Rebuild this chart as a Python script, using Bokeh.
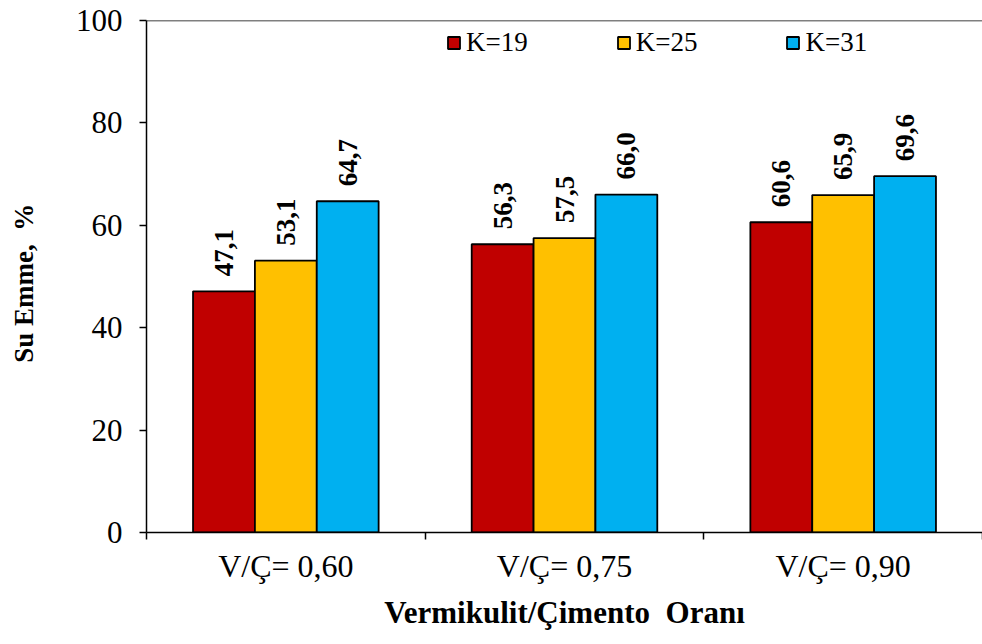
import math
from bokeh.plotting import figure
from bokeh.models import (Range1d, FixedTicker, ColumnDataSource, Legend, LegendItem, Span)
from bokeh.core.properties import value
from bokeh.embed import file_html
from bokeh.resources import INLINE

# Data
categories = ["V/Ç= 0,60", "V/Ç= 0,75", "V/Ç= 0,90"]
series_names = ["K=19", "K=25", "K=31"]
k19 = [47.1, 56.3, 60.6]
k25 = [53.1, 57.5, 65.9]
k31 = [64.7, 66.0, 69.6]
y_ticks = [0, 20, 40, 60, 80, 100]

colors = ["#C00000", "#FFC000", "#00B0F0"]
SERIF = "Liberation Serif"

bar_w = 0.222
offsets = [-bar_w, 0.0, bar_w]

p = figure(width=982, height=644, output_backend="svg", toolbar_location=None,
           x_range=Range1d(0, 3), y_range=Range1d(0, 100),
           min_border_left=146, min_border_right=0, min_border_top=20, min_border_bottom=112)
p.background_fill_color = "white"
p.border_fill_color = "white"
p.outline_line_color = None
p.grid.visible = False

legend_items = []
for name, vals, col, off in zip(series_names, [k19, k25, k31], colors, offsets):
    xs = [i + 0.5 + off for i in range(len(categories))]
    src = ColumnDataSource(dict(x=xs, top=vals,
                                lab=[f"{v:.1f}".replace(".", ",") for v in vals]))
    r = p.vbar(x="x", top="top", width=bar_w, bottom=0, source=src,
               fill_color=col, line_color="black", line_width=1.8)
    p.text(x="x", y="top", text="lab", source=src, angle=math.pi / 2,
           text_align="left", text_baseline="middle", y_offset=-15,
           text_font=value(SERIF), text_font_style="bold",
           text_font_size="27px", text_color="black")
    legend_items.append(LegendItem(label=name, renderers=[r]))

# top border of the plotting area
p.add_layout(Span(location=100, dimension="width", line_color="black", line_width=1.5))

# x axis: category labels at group centres, tick marks at group boundaries
xa = p.xaxis[0]
xa.ticker = FixedTicker(ticks=[i + 0.5 for i in range(len(categories))],
                        minor_ticks=list(range(len(categories) + 1)))
xa.major_label_overrides = {i + 0.5: c for i, c in enumerate(categories)}
xa.major_tick_out = 0
xa.major_tick_in = 0
xa.minor_tick_out = 7
xa.minor_tick_in = 0
xa.minor_tick_line_color = "black"
xa.minor_tick_line_width = 1.5
xa.axis_line_color = "black"
xa.axis_line_width = 1.5
xa.major_label_text_font = SERIF
xa.major_label_text_font_size = "32px"
xa.major_label_text_color = "black"
xa.major_label_standoff = 8
xa.axis_label = "Vermikulit/Çimento\u00a0 Oranı"
xa.axis_label_text_font = SERIF
xa.axis_label_text_font_size = "31px"
xa.axis_label_text_font_style = "bold"
xa.axis_label_text_color = "black"
xa.axis_label_standoff = 8

ya = p.yaxis[0]
ya.ticker = FixedTicker(ticks=y_ticks)
ya.major_tick_out = 7
ya.major_tick_in = 0
ya.minor_tick_out = 0
ya.minor_tick_in = 0
ya.major_tick_line_color = "black"
ya.major_tick_line_width = 1.5
ya.axis_line_color = "black"
ya.axis_line_width = 1.5
ya.major_label_text_font = SERIF
ya.major_label_text_font_size = "31px"
ya.major_label_text_color = "black"
ya.major_label_standoff = 17
ya.axis_label = "Su Emme,\u00a0 %\u00a0\u00a0"
ya.axis_label_text_font = SERIF
ya.axis_label_text_font_size = "27px"
ya.axis_label_text_font_style = "bold"
ya.axis_label_text_color = "black"
ya.axis_label_standoff = 34

legend = Legend(items=legend_items, orientation="horizontal", location=(300, 474),
                glyph_width=15, glyph_height=15, label_standoff=5, spacing=88,
                padding=0, margin=0, border_line_color=None,
                background_fill_alpha=0,
                label_text_font=SERIF, label_text_font_size="27px",
                label_text_color="black")
p.add_layout(legend)

open("out.html", "w").write(file_html(p, INLINE))
